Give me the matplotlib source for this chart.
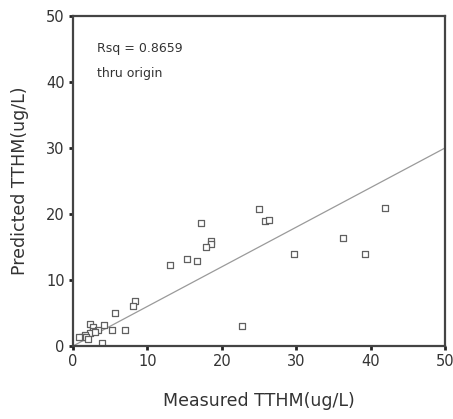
import numpy as np
from matplotlib import pyplot as plt

# measured vs predicted TTHM (ug/L)
measured = [42.0, 36.3, 39.2, 29.7, 25.0, 25.8, 26.3, 17.2, 18.6, 18.5, 17.9,
            13.1, 15.3, 16.7, 22.7, 8.3, 8.0, 5.6, 7.0, 5.2, 4.2, 3.85,
            2.3, 2.65, 3.3, 2.7, 2.3, 1.6, 1.2, 1.8, 0.85, 2.0, 3.0]
predicted = [20.9, 16.4, 13.9, 14.0, 20.8, 18.9, 19.1, 18.6, 15.9, 15.5, 15.0,
             12.3, 13.2, 12.9, 3.0, 6.8, 6.0, 5.0, 2.4, 2.5, 3.2, 0.5,
             3.3, 2.9, 2.5, 2.2, 1.9, 1.7, 1.4, 1.3, 1.3, 1.1, 2.1]
slope = 0.6  # fit through origin
rsq_text = "Rsq = 0.8659"
fit_text = "thru origin"
ticks = [0, 10, 20, 30, 40, 50]

fig = plt.figure(figsize=(4.53, 4.19), dpi=100)
ax = fig.add_axes([73 / 453, 73 / 419, 372 / 453, 330 / 419])

xs = np.linspace(0, 50, 50)
ax.plot(xs, slope * xs, color="#9a9a9a", linewidth=0.9, zorder=1)
ax.scatter(measured, predicted, marker="s", s=20, facecolors="white",
           edgecolors="#606060", linewidths=0.9, zorder=2)

ax.set_xlim(0, 50)
ax.set_ylim(0, 50)
ax.set_xticks(ticks)
ax.set_yticks(ticks)
ax.tick_params(direction="out", length=3, width=2, color="#222222",
               labelsize=10.5, labelcolor="#333333", pad=3)

for sp in ax.spines.values():
    sp.set_color("#444444")
    sp.set_linewidth(1.6)

ax.text(0.065, 0.9, rsq_text, transform=ax.transAxes, fontsize=9,
        color="#333333", va="center")
ax.text(0.065, 0.825, fit_text, transform=ax.transAxes, fontsize=9,
        color="#333333", va="center")

ax.set_xlabel("Measured TTHM(ug/L)", fontsize=12.5, color="#333333", labelpad=16)
ax.set_ylabel("Predicted TTHM(ug/L)", fontsize=12.5, color="#333333", labelpad=12)

fig.savefig("out.png", dpi=100)
